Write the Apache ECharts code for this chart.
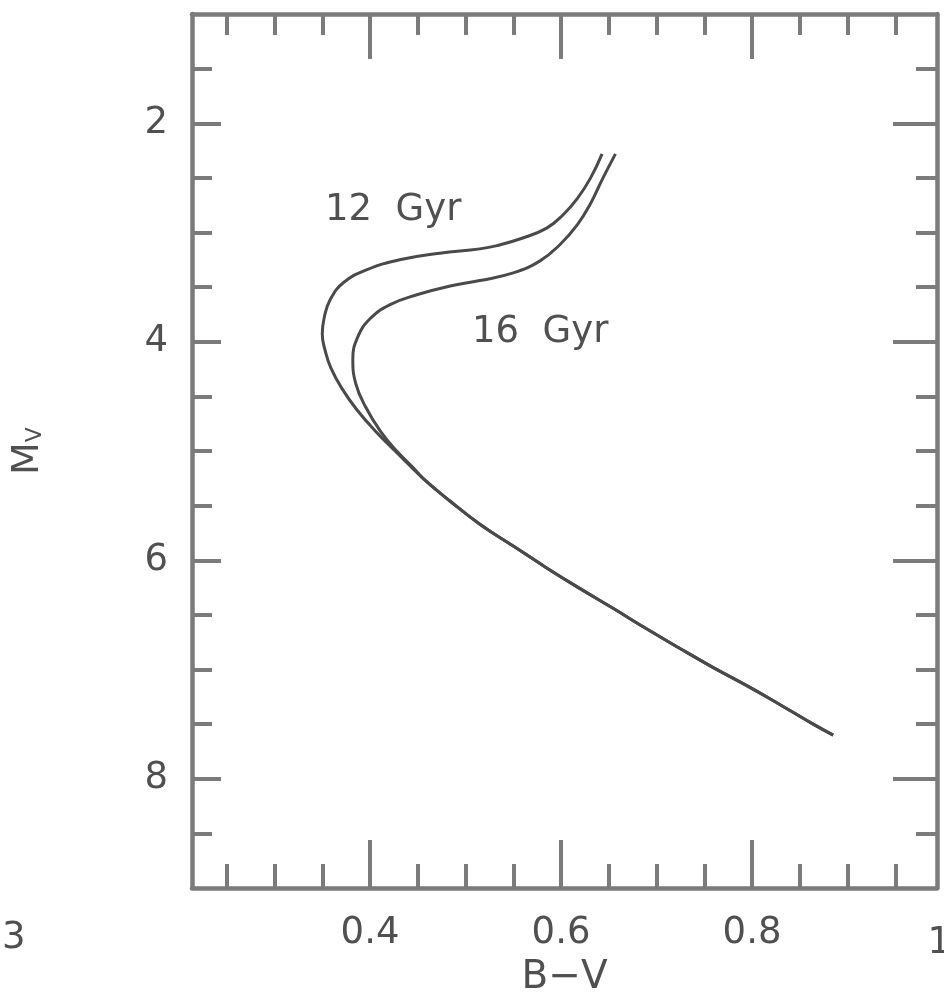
<!DOCTYPE html>
<html>
<head>
<meta charset="utf-8">
<script src="https://cdn.jsdelivr.net/npm/echarts@6/dist/echarts.min.js"></script>
<style>
html,body{margin:0;padding:0;background:#fff;}
#c{width:944px;height:1002px;}
</style>
</head>
<body>
<div id="c"></div>
<script>
// ---- data (B-V, M_V) ----
const iso12 = [[0.643,2.28],[0.631,2.50],[0.617,2.69],[0.602,2.84],[0.585,2.96],[0.560,3.05],[0.533,3.12],[0.515,3.15],[0.473,3.19],[0.431,3.25],[0.397,3.34],[0.372,3.46],[0.358,3.62],[0.352,3.78],[0.350,3.93],[0.353,4.08],[0.359,4.24],[0.370,4.42],[0.386,4.62],[0.407,4.83],[0.431,5.04]];
const iso16 = [[0.657,2.28],[0.644,2.50],[0.630,2.75],[0.617,2.93],[0.599,3.11],[0.578,3.26],[0.550,3.37],[0.515,3.44],[0.484,3.49],[0.449,3.57],[0.421,3.66],[0.400,3.79],[0.387,3.96],[0.382,4.16],[0.385,4.38],[0.395,4.59],[0.411,4.82],[0.429,5.01],[0.446,5.16]];
const mainSeq = [[0.4555,5.25],[0.484,5.46],[0.515,5.67],[0.550,5.87],[0.585,6.07],[0.620,6.26],[0.6545,6.44],[0.690,6.63],[0.725,6.81],[0.759,6.98],[0.795,7.15],[0.829,7.32],[0.864,7.50],[0.885,7.60]];
const labels = [{text:'12  Gyr', x:325, y:211},{text:'16  Gyr', x:472, y:333}];
const xLabelVals = [0.4, 0.6, 0.8, 1.0];
const xMajor = [0.4, 0.6, 0.8];
const xMinor = [0.25,0.3,0.35,0.45,0.5,0.55,0.65,0.7,0.75,0.85,0.9,0.95];
const yLabelVals = [2, 4, 6, 8];
const yMajor = [2, 4, 6, 8];
const yMinor = [1.5,2.5,3,3.5,4.5,5,5.5,6.5,7,7.5,8.5];
const xRange = [0.2136, 0.9937];
const yRange = [1, 9];

const FRAME = '#7b7b7b', INK = '#4a4a4a', TXT = '#505050';
const FONT = 'DejaVu Sans';
const chart = echarts.init(document.getElementById('c'), null, {renderer:'canvas'});

function xa(pos, ticks, len, opts) {
  return Object.assign({
    type:'value', position:pos, min:xRange[0], max:xRange[1], gridIndex:0,
    axisLine:{show:false, onZero:false},
    axisTick:{show:true, inside:true, length:len, customValues:ticks, lineStyle:{color:FRAME, width:4}},
    axisLabel:{show:false}, splitLine:{show:false}
  }, opts || {});
}
function ya(pos, ticks, len, opts) {
  return Object.assign({
    type:'value', position:pos, min:yRange[0], max:yRange[1], inverse:true, gridIndex:0,
    axisLine:{show:false, onZero:false},
    axisTick:{show:true, inside:true, length:len, customValues:ticks, lineStyle:{color:FRAME, width:4}},
    axisLabel:{show:false}, splitLine:{show:false}
  }, opts || {});
}
const lineStyleAxis = {show:true, onZero:false, lineStyle:{color:FRAME, width:4.5}};

const option = {
  backgroundColor:'#fff',
  animation:false,
  grid:{left:192, right:7, top:14, bottom:105, containLabel:false},
  xAxis:[
    xa('bottom', xMajor, 48, {
      axisLine:lineStyleAxis,
      axisLabel:{show:true, customValues:xLabelVals.filter(v=>v<=xRange[1]), margin:27, color:TXT, fontFamily:FONT, fontSize:37,
        formatter:v=>v.toFixed(1)},
      name:'B\u2212V', nameLocation:'middle', nameGap:70,
      nameTextStyle:{color:TXT, fontFamily:FONT, fontSize:39}
    }),
    xa('bottom', xMinor, 24),
    xa('top', xMajor, 45, {axisLine:lineStyleAxis}),
    xa('top', xMinor, 21)
  ],
  yAxis:[
    ya('left', yMajor, 29, {
      axisLine:lineStyleAxis,
      axisLabel:{show:true, customValues:yLabelVals, margin:24, color:TXT, fontFamily:FONT, fontSize:37},
      name:'{m|M}{v|V}', nameLocation:'middle', nameGap:145, nameRotate:90,
      nameTextStyle:{color:TXT, fontFamily:FONT, rich:{
        m:{fontSize:38, color:TXT, fontFamily:FONT},
        v:{fontSize:22, color:TXT, fontFamily:FONT, padding:[14,0,0,0]}
      }}
    }),
    ya('left', yMinor, 20),
    ya('right', yMajor, 44, {axisLine:lineStyleAxis}),
    ya('right', yMinor, 21)
  ],
  series:[
    {name:'12 Gyr', type:'line', xAxisIndex:0, yAxisIndex:0, data:iso12.concat(mainSeq), smooth:0.45, showSymbol:false,
      lineStyle:{color:INK, width:3}},
    {name:'16 Gyr', type:'line', xAxisIndex:0, yAxisIndex:0, data:iso16.concat(mainSeq), smooth:0.45, showSymbol:false,
      lineStyle:{color:INK, width:3}}
  ],
  graphic: labels.map(l=>({type:'text', left:l.x, top:l.y-19, style:{text:l.text, fill:TXT, font:'37px "DejaVu Sans"'}}))
    .concat([{type:'text', left:2, top:920, style:{text:'3', fill:TXT, font:'37px "DejaVu Sans"'}}])
};
chart.setOption(option);
// out-of-range tick label (1.0), cut by the right edge as in the scan
const extra = xLabelVals.filter(v=>v>xRange[1]).map(v=>{
  const p = chart.convertToPixel({xAxisIndex:0}, v);
  return {type:'text', x:p + 14, y:925, style:{text:v.toFixed(1), fill:TXT, font:'37px "DejaVu Sans"', textAlign:'center'}};
});
chart.setOption({graphic: option.graphic.concat(extra)});
</script>
</body>
</html>
